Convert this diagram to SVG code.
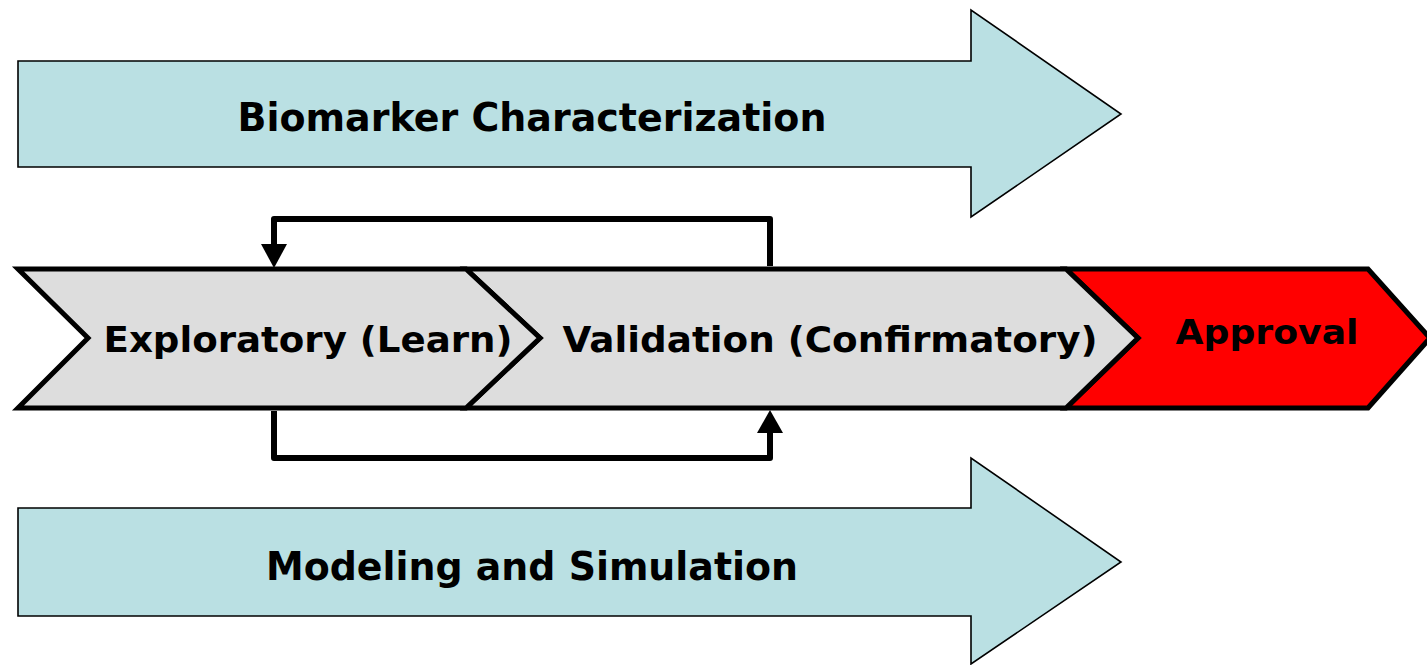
<svg xmlns="http://www.w3.org/2000/svg" width="1427" height="665" viewBox="0 0 1427 665">
  <style>
    .band { fill: #BAE0E3; stroke: #000; stroke-width: 1.6; stroke-linejoin: miter; }
    .stage { fill: #DDDDDD; stroke: #000; stroke-width: 5; stroke-linejoin: miter; }
    .final { fill: #FF0000; stroke: #000; stroke-width: 5; stroke-linejoin: miter; }
    .label { font-family: "DejaVu Sans", Verdana, sans-serif; font-weight: bold; fill: #000; text-anchor: middle; }
    .loop { fill: none; stroke: #000; stroke-width: 6; stroke-linejoin: round; }
    .head { fill: #000; stroke: none; }
  </style>
  <rect width="1427" height="665" fill="#fff"/>

  <g id="biomarker">
    <path class="band" d="M18,61 H971 V10 L1121,114 L971,217 V167 H18 Z"/>
    <text class="label" x="532" y="131" font-size="39" textLength="589" lengthAdjust="spacingAndGlyphs">Biomarker Characterization</text>
  </g>

  <g id="modeling">
    <path class="band" d="M18,508 H971 V458 L1121,562 L971,664 V616 H18 Z"/>
    <text class="label" x="532" y="580" font-size="39" textLength="532" lengthAdjust="spacingAndGlyphs">Modeling and Simulation</text>
  </g>

  <g id="approval">
    <path class="final" d="M1066,269 H1368 L1430,338 L1368,408 H1066 L1138,338 Z"/>
    <text class="label" x="1267" y="344" font-size="34" textLength="183" lengthAdjust="spacingAndGlyphs">Approval</text>
  </g>

  <g id="validation">
    <path class="stage" d="M466,269 H1066 L1138,338 L1066,408 H466 L540,338 Z"/>
    <text class="label" x="830" y="352" font-size="36" textLength="535" lengthAdjust="spacingAndGlyphs">Validation (Confirmatory)</text>
  </g>

  <g id="exploratory">
    <path class="stage" d="M18,269 H466 L540,338 L466,408 H18 L88,338 Z"/>
    <text class="label" x="308" y="352" font-size="36" textLength="409" lengthAdjust="spacingAndGlyphs">Exploratory (Learn)</text>
  </g>

  <g id="connectors">
    <!-- feedback loop: validation back to exploratory -->
    <path class="loop" d="M770,266 V219 H274 V246"/>
    <polygon class="head" points="261,244 287,244 274,268"/>
    <!-- forward loop: exploratory on to validation -->
    <path class="loop" d="M274,411 V458 H770 V431"/>
    <polygon class="head" points="757,433 783,433 770,410"/>
  </g>
</svg>
